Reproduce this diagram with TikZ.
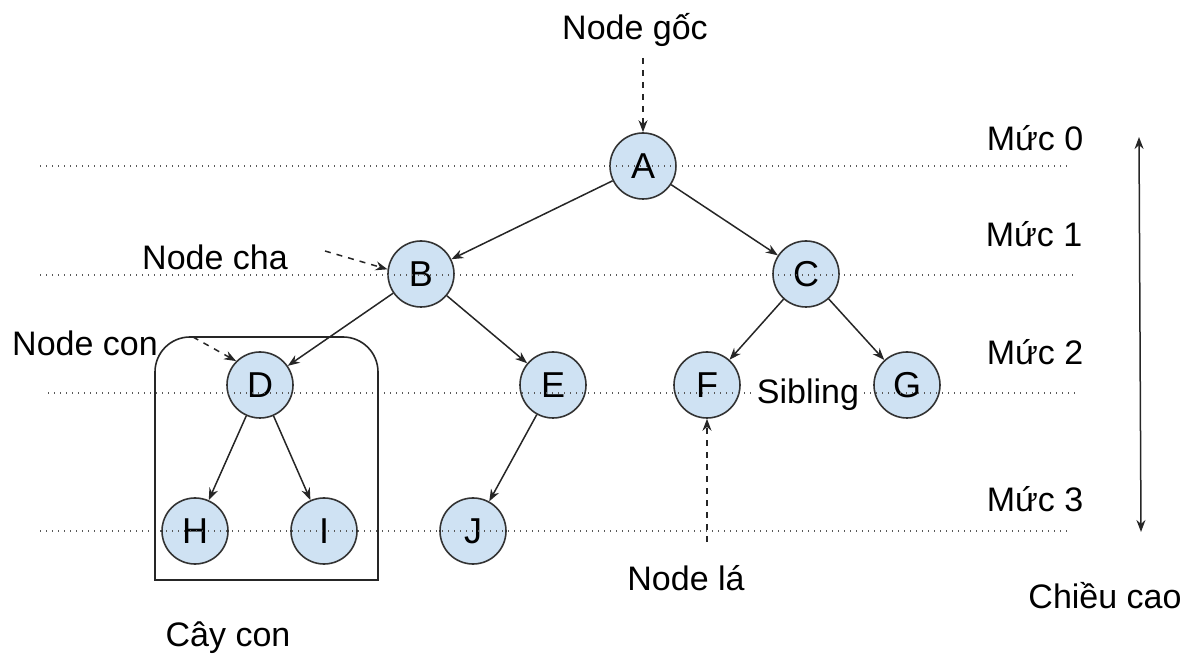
\documentclass[tikz,border=0pt]{standalone}
\usepackage{fontspec}
\setmainfont{Liberation Sans}
\usetikzlibrary{arrows.meta}
\definecolor{nodeblue}{HTML}{CFE2F3}

\begin{document}
\begin{tikzpicture}[x=0.5pt,y=-0.5pt,>={Stealth[length=6pt,width=4.5pt]},font=\fontsize{17}{20}\selectfont]
\tikzstyle{vertex}=[circle,draw=black!80,line width=0.8pt,fill=nodeblue,minimum size=33pt,inner sep=0pt,font=\fontsize{18}{21}\selectfont]
\tikzstyle{tag}=[inner sep=1pt]
\tikzstyle{levelline}=[draw=black!65,line width=0.7pt,dash pattern=on 0.7pt off 2.3pt]
\tikzstyle{edge}=[->,draw=black!85,line width=0.75pt]
\tikzstyle{pointer}=[->,dashed,draw=black!85,line width=0.75pt]
\useasboundingbox (0,0) rectangle (1189,662);

\node[vertex](A) at (643,166) {A};
\node[vertex](B) at (421,274) {B};
\node[vertex](C) at (806,274) {C};
\node[vertex](D) at (260,385) {D};
\node[vertex](E) at (553,385) {E};
\node[vertex](F) at (707,385) {F};
\node[vertex](G) at (907,385) {G};
\node[vertex](H) at (195,531) {H};
\node[vertex](I) at (324,531) {I};
\node[vertex](J) at (473,531) {J};

\draw[edge] (A) -- (B);
\draw[edge] (A) -- (C);
\draw[edge] (B) -- (D);
\draw[edge] (B) -- (E);
\draw[edge] (C) -- (F);
\draw[edge] (C) -- (G);
\draw[edge] (D) -- (H);
\draw[edge] (D) -- (I);
\draw[edge] (E) -- (J);

\foreach \y/\a/\b in {166/40/1067,275/40/1075,393/48/1075,531/40/1067}
  \draw[levelline] (\a,\y) -- (\b,\y);

% subtree frame, round at the top only
\draw[line width=0.8pt,draw=black!85] (378,580) -- (155,580) -- (155,420)
  [rounded corners=17.5pt] -- (155,337) -- (378,337) -- (378,420) [sharp corners] -- cycle;

\node[tag](goc) at (635,30) {Node gốc};
\node[tag](cha) at (215,257) {Node cha};
\node[tag](con) at (85,343) {Node con};
\node[tag](la) at (686,578) {Node lá};
\node[tag,fill=white,inner sep=2pt](sib) at (808,395) {Sibling};
\node[tag](cay) at (228,638) {Cây con};

\coordinate (goc-tail) at (643,58);
\coordinate (cha-tail) at (325,251);
\coordinate (con-tail) at (193,337);
\coordinate (la-tail) at (707,542);
\draw[pointer] (goc-tail) -- (A.north);
\draw[pointer] (cha-tail) -- (B.172);
\draw[pointer] (con-tail) -- (D.north west);
\draw[pointer] (la-tail) -- (F.south);

\node[tag](m0) at (1035,138) {Mức 0};
\node[tag](m1) at (1034,234) {Mức 1};
\node[tag](m2) at (1035,352) {Mức 2};
\node[tag](m3) at (1035,499) {Mức 3};
\node[tag](ht) at (1105,596) {Chiều cao};

\coordinate (top) at (1139,137);
\coordinate (bottom) at (1141,532);
\draw[<->,line width=0.75pt,draw=black!85] (top) -- (bottom);
\end{tikzpicture}
\end{document}
